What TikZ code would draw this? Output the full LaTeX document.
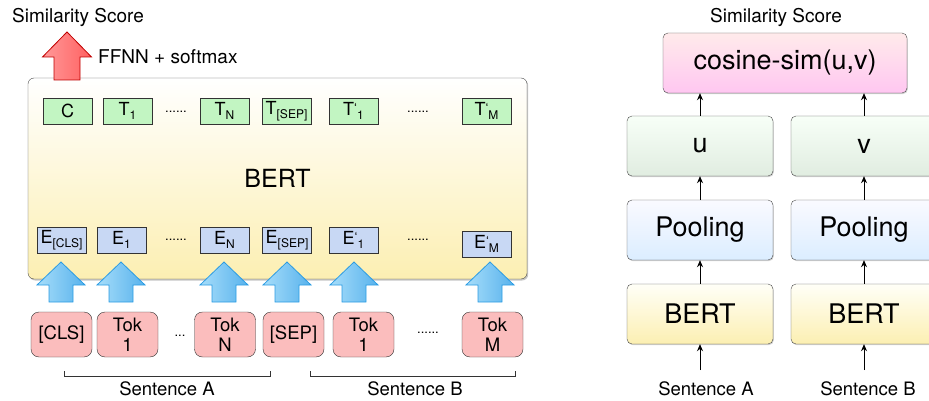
\documentclass[tikz,border=0pt]{standalone}
\usepackage{fontspec}
\setmainfont{TeX Gyre Heros}
\usetikzlibrary{shadows, positioning, arrows.meta}
\newcommand{\fsz}[1]{\fontsize{#1}{#1}\selectfont}
% token with subscript, and with a prime before the subscript
\newcommand{\emb}[2]{#1\raisebox{-0.45ex}{\fsz{12}#2}}
\newcommand{\embp}[2]{#1\raisebox{0.3ex}{\fsz{13}\textquoteleft}\raisebox{-0.45ex}{\fsz{12}#2}}
\definecolor{outgreen}{HTML}{C2F5C2}
\definecolor{embblue}{HTML}{C8D8F4}
\definecolor{tokred}{HTML}{FBBDBD}
\definecolor{bertyellow}{HTML}{FCEFB2}
\definecolor{arrowlight}{HTML}{A6DDFA}
\definecolor{arrowdark}{HTML}{58B2EC}
\definecolor{arrowedge}{HTML}{2B9CE3}
\tikzset{
    outbox/.style = {draw=black!80, fill=outgreen, minimum width=49pt, minimum height=26pt, inner sep=0pt, font=\fsz{18}},
    embbox/.style = {outbox, fill=embblue},
    tokbox/.style = {draw=black!80, fill=tokred, rounded corners=8pt, minimum width=61pt, minimum height=45pt,
                     inner sep=0pt, align=center, font=\fontsize{18.5}{20}\selectfont},
    dots/.style = {font=\fsz{13}, inner sep=0pt},
    label text/.style = {font=\fsz{19}, inner sep=0pt},
    stack box/.style = {draw=black!70, rounded corners=5pt, minimum width=146pt, minimum height=60pt,
                        inner sep=0pt, font=\fsz{27}, drop shadow={shadow xshift=0.8pt, shadow yshift=-1.2pt, opacity=0.35}},
    up/.style = {-{Stealth[length=7pt, width=6pt]}, line width=0.9pt},
}
\tikzset{
    blue arrow/.pic = {
        \draw[draw=arrowedge, line width=0.8pt, left color=arrowlight, right color=arrowdark]
            (-12,0) -- (-12,-17) -- (-24,-17) -- (0,-40) -- (24,-17) -- (12,-17) -- (12,0) -- cycle;
    },
    red arrow/.pic = {
        \draw[draw=red!75!black, line width=0.8pt, left color=red!40, right color=red!62]
            (-13,0) -- (-13,-23) -- (-24.5,-23) -- (0,-48) -- (24.5,-23) -- (13,-23) -- (13,0) -- cycle;
    },
}

\begin{document}
\begin{tikzpicture}[x=1pt, y=-1pt]
    \useasboundingbox (0,0) rectangle (929,401);
    \clip (0,0) rectangle (929,401);

    % left: cross-encoder
    \node[label text] (scoreL) at (78,17) {Similarity Score};
    \node[draw=black!70, rounded corners=6pt, top color=white, bottom color=bertyellow,
          minimum width=499pt, minimum height=201pt, font=\fsz{25},
          drop shadow={shadow xshift=1.2pt, shadow yshift=-1.5pt, opacity=0.45}] (bert) at (277.5,178.5) {BERT};
    \pic at (67,80) {red arrow};
    \node[label text, anchor=west] (ffnn) at (98,57) {FFNN + softmax};

    \node[outbox] (C) at (67.5,111) {C};
    \node[outbox] (T1) at (127.5,111) {\emb{T}{1}};
    \node[outbox] (TN) at (224.5,111) {\emb{T}{N}};
    \node[outbox] (Tsep) at (286.5,111) {\emb{T}{[SEP]}};
    \node[outbox] (T1b) at (353.5,111) {\embp{T}{1}};
    \node[outbox] (TMb) at (486.5,111) {\embp{T}{M}};
    \node[dots] at (176,112) {......};
    \node[dots] at (418,112) {......};

    \node[embbox] (Ecls) at (61.5,240) {\emb{E}{[CLS]}};
    \node[embbox] (E1) at (121.5,240) {\emb{E}{1}};
    \node[embbox] (EN) at (224.5,240) {\emb{E}{N}};
    \node[embbox] (Esep) at (287,240) {\emb{E}{[SEP]}};
    \node[embbox] (E1b) at (353.5,240) {\embp{E}{1}};
    \node[embbox] (EMb) at (486.5,244) {\embp{E}{M}};
    \node[dots] at (176,240) {......};
    \node[dots] at (418,240) {......};

    \foreach \x in {61,121,224,287,354,490}
        \pic at (\x,302) {blue arrow};

    \node[tokbox] (cls) at (61.5,334.5) {{[CLS]}};
    \node[tokbox] (tok1) at (127.5,334.5) {Tok\\1};
    \node[tokbox] (tokN) at (225,334.5) {Tok\\N};
    \node[tokbox] (sep) at (293.5,334.5) {{[SEP]}};
    \node[tokbox] (tok1b) at (363.5,334.5) {Tok\\1};
    \node[tokbox] (tokMb) at (492.5,334.5) {Tok\\M};
    \node[dots] at (180,336) {...};
    \node[dots] at (428,333) {......};

    \draw[black!80, line width=0.8pt] (64,371) -- (64,376) -- (270,376) -- (270,371);
    \draw[black!80, line width=0.8pt] (310,371) -- (310,376) -- (515,376) -- (515,371);
    \node[label text, font=\fsz{18.5}] (sentA) at (167,389) {Sentence A};
    \node[label text, font=\fsz{18.5}] (sentB) at (415,389) {Sentence B};

    % right: bi-encoder
    \node[label text] (scoreR) at (776,17) {Similarity Score};
    \node[stack box, top color=red!8, bottom color=red!25!magenta!22, minimum width=244pt] (cos) at (785,63) {cosine-sim(u,v)};
    \node[stack box, top color=green!3, bottom color=green!40!black!12!white] (u) at (700,146) {u};
    \node[stack box, top color=green!3, bottom color=green!40!black!12!white] (v) at (864,146) {v};
    \node[stack box, top color=blue!2, bottom color=blue!50!cyan!14] (poolA) at (700,230) {Pooling};
    \node[stack box, top color=blue!2, bottom color=blue!50!cyan!14] (poolB) at (864,230) {Pooling};
    \node[stack box, top color=yellow!3, bottom color=bertyellow] (bertA) at (700,314) {BERT};
    \node[stack box, top color=yellow!3, bottom color=bertyellow] (bertB) at (864,314) {BERT};
    \node[label text, font=\fsz{18.5}] (inA) at (706,389) {Sentence A};
    \node[label text, font=\fsz{18.5}] (inB) at (868,389) {Sentence B};

    \draw[up] (bertA.south |- 0,370) -- (bertA);
    \draw[up] (bertB.south |- 0,370) -- (bertB);
    \draw[up] (bertA) -- (poolA);
    \draw[up] (bertB) -- (poolB);
    \draw[up] (poolA) -- (u);
    \draw[up] (poolB) -- (v);
    \draw[up] (u) -- (u |- cos.south);
    \draw[up] (v) -- (v |- cos.south);
\end{tikzpicture}
\end{document}
